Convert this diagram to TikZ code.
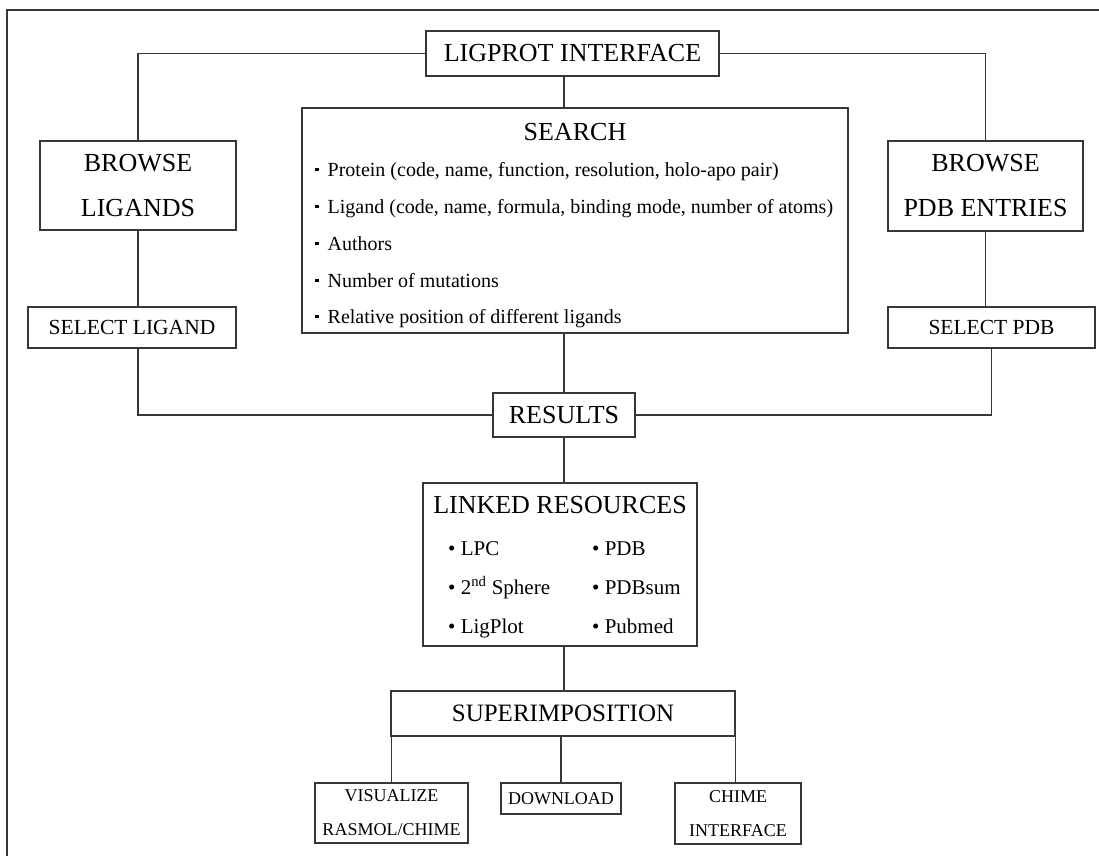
\documentclass[tikz,border=0pt]{standalone}
\usepackage{fontspec}
\setmainfont{Liberation Serif}
\definecolor{linec}{RGB}{55,55,55}
\newcommand\sqb{\rule[5pt]{3.5pt}{3.5pt}\hspace{9pt}}
\newcommand\hdfont{\fontsize{26}{45}\selectfont}
\begin{document}
\begin{tikzpicture}[x=1pt,y=-1pt,
  box/.style={draw=linec, line width=1.3pt, rectangle, inner sep=0pt, align=center, text=black},
  conn/.style={draw=linec, line width=1.3pt},
  hd/.style={font=\hdfont},
  small/.style={font=\fontsize{18}{34}\selectfont},
  sel/.style={font=\fontsize{21.5}{26}\selectfont},
  sitem/.style={anchor=west, inner sep=0pt, font=\fontsize{20}{24}\selectfont, text height=15pt, text depth=5pt},
  litem/.style={anchor=west, inner sep=0pt, font=\fontsize{21}{25}\selectfont, text height=15pt, text depth=5pt}]
\fill[white] (0,0) rectangle (1099,856);
\useasboundingbox (0,0) rectangle (1099,856);
% outer frame (clipped at right and bottom)
\coordinate (ftl) at (7,10);
\coordinate (ftr) at (1099,10);
\coordinate (fbl) at (7,856);
\draw[conn] (ftr) -- (ftl) -- (fbl);

% boxes
\node[box, hd, minimum width=293pt, minimum height=45pt] (lig) at (572.5,53.5) {LIGPROT INTERFACE};
\node[box, hd, minimum width=196pt, minimum height=89pt] (bl) at (138,185.5) {BROWSE\\LIGANDS};
\node[box, hd, minimum width=195pt, minimum height=90pt] (bp) at (985.5,186) {BROWSE\\PDB ENTRIES};
\node[box, minimum width=546pt, minimum height=225pt] (search) at (575,220.5) {};
\node[hd, inner sep=0pt] (stitle) at (575,132) {SEARCH};
\node[sitem] (s1) at (315,171) {\sqb Protein (code, name, function, resolution, holo-apo pair)};
\node[sitem] (s2) at (315,208) {\sqb Ligand (code, name, formula, binding mode, number of atoms)};
\node[sitem] (s3) at (315,245) {\sqb Authors};
\node[sitem] (s4) at (315,282) {\sqb Number of mutations};
\node[sitem] (s5) at (315,318) {\sqb Relative position of different ligands};

\node[box, sel, minimum width=208pt, minimum height=41pt] (sl) at (132,327.5) {SELECT LIGAND};
\node[box, sel, minimum width=207pt, minimum height=41pt] (sp) at (991.5,327.5) {SELECT PDB};

\node[box, hd, minimum width=142pt, minimum height=44pt] (res) at (564,415) {RESULTS};

\node[box, minimum width=274pt, minimum height=163pt] (lr) at (560,564.5) {};
\node[hd, inner sep=0pt] (ltitle) at (560,505) {LINKED RESOURCES};
\node[litem] (l1) at (448,550) {\textbullet\ LPC};
\node[litem] (l2) at (448,589) {\textbullet\ 2\textsuperscript{nd} Sphere};
\node[litem] (l3) at (448,628) {\textbullet\ LigPlot};
\node[litem] (r1) at (592,550) {\textbullet\ PDB};
\node[litem] (r2) at (592,589) {\textbullet\ PDBsum};
\node[litem] (r3) at (592,628) {\textbullet\ Pubmed};

\node[box, font=\fontsize{25}{30}\selectfont, minimum width=344pt, minimum height=45pt] (sup) at (563,713.5) {SUPERIMPOSITION};

\node[box, small, minimum width=153pt, minimum height=60pt] (vis) at (391.5,813) {VISUALIZE\\RASMOL/CHIME};
\node[box, small, minimum width=120pt, minimum height=31pt] (dl) at (561,798.5) {DOWNLOAD};
\node[box, small, minimum width=126pt, minimum height=61pt] (ch) at (738,813.5) {CHIME\\INTERFACE};

% connectors
\draw[conn] (lig.west) -| (bl.north);
\draw[conn] (lig.east) -| (bp.north);
\draw[conn] (lig.south -| res.north) -- (search.north -| res.north);
\draw[conn] (bl.south) -- (bl.south |- sl.north);
\draw[conn] (bp.south) -- (bp.south |- sp.north);
\draw[conn] (bl.south |- sl.south) |- (res.west);
\draw[conn] (sp.south) |- (res.east);
\draw[conn] (search.south -| res.north) -- (res.north);
\draw[conn] (res.south) -- (res.south |- lr.north);
\draw[conn] (lr.south -| res.south) -- (sup.north -| res.south);
\draw[conn] (vis.north |- sup.south) -- (vis.north);
\draw[conn] (dl.north |- sup.south) -- (dl.north);
\draw[conn] (sup.south east) -- (sup.south east |- ch.north);
\end{tikzpicture}
\end{document}
